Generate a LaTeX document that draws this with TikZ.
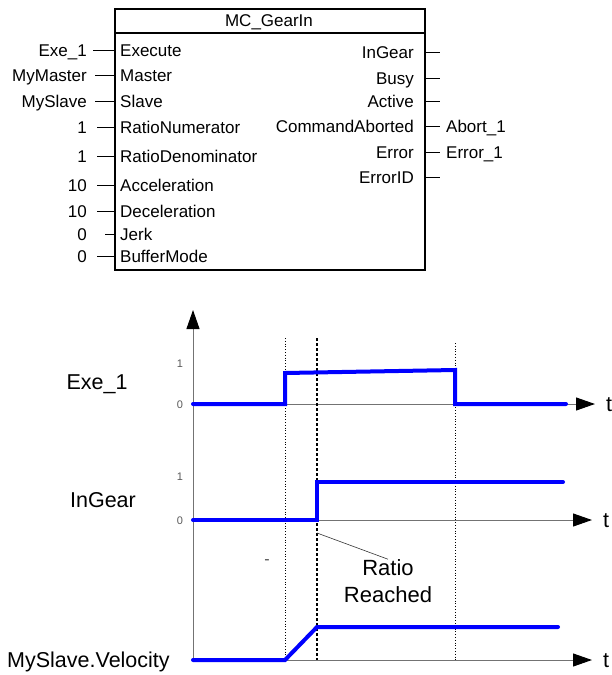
\documentclass[tikz,border=0pt]{standalone}
\usepackage{fontspec}
\setmainfont{Liberation Sans}
\usetikzlibrary{arrows.meta}
\begin{document}
\begin{tikzpicture}[x=1pt,y=-1pt,
  fbtxt/.style={font=\fontsize{17}{20}\selectfont, inner sep=0pt, text height=12.2pt, text depth=0pt},
  tdtxt/.style={font=\fontsize{21.5}{26}\selectfont, inner sep=0pt, text height=15.4pt, text depth=0pt},
  lvl/.style={font=\fontsize{11}{13}\selectfont, inner sep=0pt, text height=7.9pt, text depth=0pt, text=black!65},
  fbbox/.style={draw, line width=1.8pt, inner sep=0pt},
  stub/.style={line width=0.8pt},
  sig/.style={draw=blue, line width=4pt, line cap=round, line join=miter},
  axisline/.style={draw=black!55, line width=1pt, -{Triangle[length=19pt,width=13pt,color=black]}},
  thindot/.style={draw=black, line width=0.8pt, dotted},
  thickdash/.style={draw=black, line width=2pt, dash pattern=on 3pt off 2pt},
  leader/.style={draw=black!80, line width=0.6pt}
]
\useasboundingbox (0,0) rectangle (612,675);

% ---------- function block ----------
\node[fbbox, minimum width=310pt, minimum height=261pt, anchor=north west] (fb) at (114,8) {};
\draw[line width=1.8pt] (fb.west |- 0,33) -- (fb.east |- 0,33);
\node[fbtxt] (title) at (269,20) {MC\_GearIn};

\foreach \yy/\ext/\pin/\g [count=\i] in {
  50/Exe\_1/Execute/6,
  75/MyMaster/Master/8,
  101/MySlave/Slave/8,
  127/1/RatioNumerator/10,
  156/1/RatioDenominator/10,
  185/10/Acceleration/10,
  211/10/Deceleration/10,
  234/0/Jerk/18,
  256/0/BufferMode/10}{
  \node[fbtxt, anchor=west] (pin\i) at (120,\yy) {\pin};
  \node[fbtxt, anchor=east] (ein\i) at (87,\yy) {\ext};
  \draw[stub] ([xshift=\g pt]ein\i.east) -- (fb.west |- pin\i.west);
}

\foreach \yy/\pin/\ext [count=\i] in {
  52/InGear/,
  78/Busy/,
  101/Active/,
  126/CommandAborted/Abort\_1,
  152/Error/Error\_1,
  177/ErrorID/}{
  \node[fbtxt, anchor=east] (pout\i) at (414,\yy) {\pin};
  \node[fbtxt, anchor=west] (eout\i) at (446,\yy) {\ext};
  \draw[stub] (fb.east |- pout\i.east) -- ++(14,0);
}

% ---------- timing diagram ----------
\coordinate (O) at (193,662);
\draw[axisline] (O) -- (193,310);
\draw[axisline] (193,404) -- (595,404);
\draw[axisline] (193,520) -- (592,520);
\draw[axisline] (193,660) -- (592,660);

\node[tdtxt, anchor=west] (t1) at (606,404) {t};
\node[tdtxt, anchor=west] (t2) at (603,520) {t};
\node[tdtxt, anchor=west] (t3) at (603,660) {t};

\node[tdtxt] (lexe) at (97,382) {Exe\_1};
\node[tdtxt] (lgear) at (103,500) {InGear};
\node[tdtxt, anchor=west] (lvel) at (7,660) {MySlave.Velocity};

\node[lvl] (e1) at (180,364) {1};
\node[lvl] (e0) at (180,405) {0};
\node[lvl] (g1) at (180,477) {1};
\node[lvl] (g0) at (180,521) {0};

% time markers
\draw[thindot] (285,338) -- (285,660);
\draw[thickdash] (317,338) -- (317,660);
\draw[thindot] (455,343) -- (455,660);

% signals
\draw[sig] (193,404) -- (285,404) -- (285,373) -- (455,370) -- (455,404) -- (566,404);
\draw[sig] (193,520) -- (317,520) -- (317,482) -- (563,482);
\draw[sig] (193,660) -- (285,660) -- (317,627) -- (558,627);

% annotation
\node[font=\fontsize{22}{27}\selectfont, align=center, inner sep=0pt] (rr) at (388,581) {Ratio\\Reached};
\coordinate (rrp) at (317,533);
\draw[leader] (rrp) -- (rr.north);
\node[font=\fontsize{16}{18}\selectfont, inner sep=0pt, text=black!70] (dash) at (267,562) {-};
\end{tikzpicture}
\end{document}
